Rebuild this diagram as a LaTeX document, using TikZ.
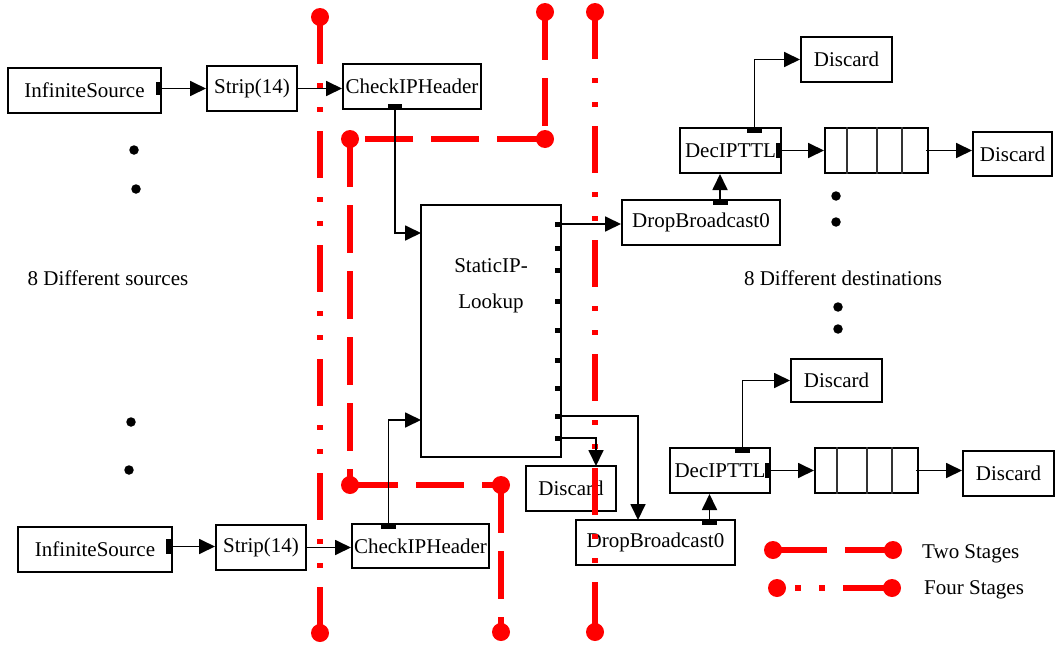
\documentclass[tikz,border=0pt]{standalone}
\usepackage{fontspec}
\setmainfont{Liberation Serif}
\usetikzlibrary{arrows.meta,calc}
\begin{document}
\begin{tikzpicture}[x=1pt,y=-1pt,
  every node/.style={font=\fontsize{21}{25}\selectfont},
  box/.style={draw, line width=2pt, inner sep=0pt, minimum height=45pt},
  port/.style={fill=black, draw=none, inner sep=0pt},
  conn/.style={line width=1.8pt, -{Triangle[length=16pt,width=15pt]}},
  divider/.style={line width=1.4pt, black!80},
  two/.style={red, line width=6pt, dash pattern=on 48pt off 18pt},
  four/.style={red, line width=6pt, dash pattern=on 47pt off 19pt on 5pt off 19pt on 5pt off 19pt},
  blackdot/.style={circle, fill=black, draw=none, inner sep=0pt, minimum size=9.5pt},
  redball/.style={circle, fill=red, draw=none, inner sep=0pt, minimum size=18pt},
  txt/.style={inner sep=0pt}
]
\fill[white] (0,0) rectangle (1058,645);
\useasboundingbox (0,0) rectangle (1058,645);

% ---------- boxes ----------
\node[box, minimum width=153pt] (is1) at (84.5,90.5) {InfiniteSource};
\node[box, minimum width=90pt] (st1) at (252,88.5) {Strip(14)};
\node[box, minimum width=138pt] (cih1) at (412,86.5) {CheckIPHeader};
\node[box, minimum width=140pt, minimum height=252pt] (sip) at (491,331) {};
\node[txt, anchor=base] (sipa) at (491,272) {StaticIP-};
\node[txt, anchor=base] (sipb) at (491,308) {Lookup};

\node[box, minimum width=158pt] (db1) at (701,222.5) {DropBroadcast0};
\node[box, minimum width=101pt] (dec1) at (730.5,150.5) {DecIPTTL};
\node[box, minimum width=103pt] (q1) at (876.5,150.5) {};
\node[box, minimum width=91pt] (dis1) at (846.5,59.5) {Discard};
\node[box, minimum width=79pt, minimum height=44pt] (dis2) at (1012.5,154) {Discard};

\node[box, minimum width=90pt] (dis3) at (571,488.5) {Discard};
\node[box, minimum width=159pt] (db2) at (655.5,542.5) {DropBroadcast0};
\node[box, minimum width=100pt] (dec2) at (720,470.5) {DecIPTTL};
\node[box, minimum width=103pt] (q2) at (866.5,470.5) {};
\node[box, minimum width=91pt, minimum height=43pt] (dis4) at (836.5,380.5) {Discard};
\node[box, minimum width=91pt] (dis5) at (1008.5,473.5) {Discard};

\node[box, minimum width=154pt] (is2) at (95,549.5) {InfiniteSource};
\node[box, minimum width=90pt] (st2) at (261,547.5) {Strip(14)};
\node[box, minimum width=137pt, minimum height=44pt] (cih2) at (420.5,546) {CheckIPHeader};

% queue dividers
\foreach \q in {q1,q2}{
  \foreach \dx in {23,53,78}{
    \draw[divider] ($(\q.north west)+(\dx,0)$) -- ($(\q.south west)+(\dx,0)$);
  }
}

% ---------- ports ----------
\node[port, minimum width=5pt, minimum height=13pt] (is1p) at (158.5,88.5) {};
\node[port, minimum width=14pt, minimum height=5pt] (cih1p) at (395,106.5) {};
\foreach \i/\y in {1/224,2/248,3/270,4/301,5/330,6/360,7/388,8/416,9/438}{
  \node[port, minimum width=6pt, minimum height=5pt] (sp\i) at (558,\y) {};
}
\node[port, minimum width=15pt, minimum height=5pt] (db1p) at (720,202.5) {};
\node[port, minimum width=15pt, minimum height=5pt] (dec1pt) at (754.5,130.5) {};
\node[port, minimum width=5pt, minimum height=15pt] (dec1pr) at (778.5,150.5) {};
\node[port, minimum width=15pt, minimum height=5pt] (db2p) at (709.5,522.5) {};
\node[port, minimum width=15pt, minimum height=5pt] (dec2pt) at (742.5,450.5) {};
\node[port, minimum width=5pt, minimum height=15pt] (dec2pr) at (767.5,470.5) {};
\node[port, minimum width=6pt, minimum height=15pt] (is2p) at (168.5,546.5) {};
\node[port, minimum width=15pt, minimum height=5pt] (cih2p) at (388.5,526.5) {};

% ---------- dots and labels ----------
\node[blackdot] (ld1) at (134,150) {};
\node[blackdot] (ld2) at (136,189) {};
\node[blackdot] (ld3) at (131,422) {};
\node[blackdot] (ld4) at (129,470) {};
\node[blackdot] (rd1) at (836,196) {};
\node[blackdot] (rd2) at (836,222) {};
\node[blackdot] (rd3) at (838,307) {};
\node[blackdot] (rd4) at (838,329) {};
\node[txt] (src) at (108,278) {8 Different sources};
\node[txt] (dst) at (843,278) {8 Different destinations};
\node[txt, anchor=west] (twol) at (922,554) {Two Stages};
\node[txt, anchor=west] (fourl) at (924,590) {Four Stages};

% ---------- red stage lines ----------
\node[redball] (fa1) at (320,17) {};
\node[redball] (fa2) at (320,633) {};
\node[redball] (fb1) at (595,12) {};
\node[redball] (fb2) at (595,632) {};
\draw[four] (fa1.center) -- (fa2.center);
\draw[four] (fb1.center) -- (fb2.center);

\node[redball] (t1) at (545,12) {};
\node[redball] (t2) at (545,139) {};
\node[redball] (t3) at (350,139) {};
\node[redball] (t4) at (350,485) {};
\node[redball] (t5) at (501,485) {};
\node[redball] (t6) at (501,632) {};
\draw[two] (t1.center) -- (t2.center);
\draw[two] (t2.center) -- (t3.center);
\draw[two] (t3.center) -- (t4.center);
\draw[two] (t4.center) -- (t5.center);
\draw[two] (t5.center) -- (t6.center);

% legend
\node[redball] (la1) at (773,550) {};
\node[redball] (la2) at (893,550) {};
\node[redball] (lb1) at (777,588) {};
\node[redball] (lb2) at (892,588) {};
\draw[red, line width=6pt, dash pattern=on 54pt off 18pt on 100pt] (la1.center) -- (la2.center);
\draw[red, line width=6pt, dash pattern=on 8pt off 10pt on 6pt off 18pt on 6pt off 18pt on 100pt] (lb1.center) -- (lb2.center);

% ---------- connectors ----------
\coordinate (sin1) at (421,233);
\coordinate (sin2) at (421,420);
\coordinate (db2in) at (638,520);
\coordinate (dis3in) at (596,466);

\draw[conn] (is1p.east) -- (is1p.east -| st1.west);
\draw[conn] (st1.east) -- (st1.east -| cih1.west);
\draw[conn] (cih1p.south) |- (sin1);
\draw[conn] (is2p.east) -- (is2p.east -| st2.west);
\draw[conn] (st2.east) -- (st2.east -| cih2.west);
\draw[conn] (cih2p.north) |- (sin2);

\draw[conn] (sp1.east) -- (sp1.east -| db1.west);
\draw[conn] (sp8.east) -| (db2in);
\draw[conn] (sp9.east) -| (dis3in);

\draw[conn] (db1p.north) -- (db1p.north |- dec1.south);
\draw[conn] (dec1pt.north) |- (dis1.west);
\draw[conn] (dec1pr.east) -- (dec1pr.east -| q1.west);
\draw[conn] ([xshift=-3pt]q1.east) -- (q1.east -| dis2.west);

\draw[conn] (db2p.north) -- (db2p.north |- dec2.south);
\draw[conn] (dec2pt.north) |- (dis4.west);
\draw[conn] (dec2pr.east) -- (dec2pr.east -| q2.west);
\draw[conn] ([xshift=-3pt]q2.east) -- (q2.east -| dis5.west);
\end{tikzpicture}
\end{document}
